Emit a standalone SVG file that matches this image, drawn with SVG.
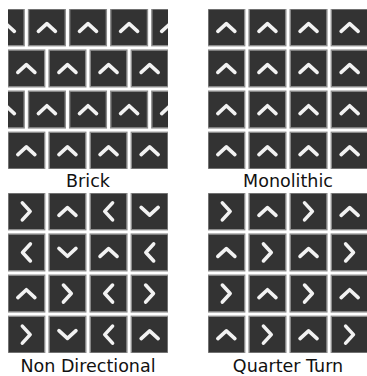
<svg xmlns="http://www.w3.org/2000/svg" xmlns:xlink="http://www.w3.org/1999/xlink" width="367" height="376" viewBox="0 0 367 376">
<style>
.t{fill:#333333;stroke:#8c8c8c;stroke-width:1.4}
.c{fill:none;stroke:#f2f2f2;stroke-width:3.6;stroke-linecap:round;stroke-linejoin:round}
.lbl{font-family:"DejaVu Sans",sans-serif;font-size:17.5px;fill:#111;text-anchor:middle}
</style>
<defs>
<g id="tile"><rect class="t" x="-18.35" y="-18.35" width="36.7" height="36.7"/><path class="c" d="M-8.5,4 L0,-3.8 L8.5,4"/></g>
<clipPath id="k1"><rect x="8" y="9" width="160" height="160"/></clipPath>
<clipPath id="k2"><rect x="208" y="9" width="160" height="160"/></clipPath>
<clipPath id="k3"><rect x="8" y="193" width="160" height="160"/></clipPath>
<clipPath id="k4"><rect x="208" y="193" width="160" height="160"/></clipPath>
</defs>
<rect width="367" height="376" fill="#ffffff"/>
<g id="brick">
<g clip-path="url(#k1)">
<use href="#tile" transform="translate(5.8,27.35)"/><use href="#tile" transform="translate(46.9,27.35)"/><use href="#tile" transform="translate(88,27.35)"/><use href="#tile" transform="translate(129.1,27.35)"/><use href="#tile" transform="translate(170.2,27.35)"/>
<use href="#tile" transform="translate(26.35,68.45)"/><use href="#tile" transform="translate(67.45,68.45)"/><use href="#tile" transform="translate(108.55,68.45)"/><use href="#tile" transform="translate(149.65,68.45)"/>
<use href="#tile" transform="translate(5.8,109.55)"/><use href="#tile" transform="translate(46.9,109.55)"/><use href="#tile" transform="translate(88,109.55)"/><use href="#tile" transform="translate(129.1,109.55)"/><use href="#tile" transform="translate(170.2,109.55)"/>
<use href="#tile" transform="translate(26.35,150.65)"/><use href="#tile" transform="translate(67.45,150.65)"/><use href="#tile" transform="translate(108.55,150.65)"/><use href="#tile" transform="translate(149.65,150.65)"/>
</g>
<text class="lbl" x="88" y="187">Brick</text>
</g>
<g id="monolithic">
<g clip-path="url(#k2)">
<use href="#tile" transform="translate(226.35,27.35)"/><use href="#tile" transform="translate(267.45,27.35)"/><use href="#tile" transform="translate(308.55,27.35)"/><use href="#tile" transform="translate(349.65,27.35)"/>
<use href="#tile" transform="translate(226.35,68.45)"/><use href="#tile" transform="translate(267.45,68.45)"/><use href="#tile" transform="translate(308.55,68.45)"/><use href="#tile" transform="translate(349.65,68.45)"/>
<use href="#tile" transform="translate(226.35,109.55)"/><use href="#tile" transform="translate(267.45,109.55)"/><use href="#tile" transform="translate(308.55,109.55)"/><use href="#tile" transform="translate(349.65,109.55)"/>
<use href="#tile" transform="translate(226.35,150.65)"/><use href="#tile" transform="translate(267.45,150.65)"/><use href="#tile" transform="translate(308.55,150.65)"/><use href="#tile" transform="translate(349.65,150.65)"/>
</g>
<text class="lbl" x="288" y="187">Monolithic</text>
</g>
<g id="non-directional">
<g clip-path="url(#k3)">
<use href="#tile" transform="translate(26.35,211.35) rotate(90)"/><use href="#tile" transform="translate(67.45,211.35)"/><use href="#tile" transform="translate(108.55,211.35) rotate(270)"/><use href="#tile" transform="translate(149.65,211.35) rotate(180)"/>
<use href="#tile" transform="translate(26.35,252.45) rotate(270)"/><use href="#tile" transform="translate(67.45,252.45) rotate(180)"/><use href="#tile" transform="translate(108.55,252.45)"/><use href="#tile" transform="translate(149.65,252.45) rotate(270)"/>
<use href="#tile" transform="translate(26.35,293.55)"/><use href="#tile" transform="translate(67.45,293.55) rotate(90)"/><use href="#tile" transform="translate(108.55,293.55) rotate(270)"/><use href="#tile" transform="translate(149.65,293.55) rotate(90)"/>
<use href="#tile" transform="translate(26.35,334.65) rotate(90)"/><use href="#tile" transform="translate(67.45,334.65) rotate(180)"/><use href="#tile" transform="translate(108.55,334.65) rotate(270)"/><use href="#tile" transform="translate(149.65,334.65)"/>
</g>
<text class="lbl" x="88" y="371.5">Non Directional</text>
</g>
<g id="quarter-turn">
<g clip-path="url(#k4)">
<use href="#tile" transform="translate(226.35,211.35) rotate(90)"/><use href="#tile" transform="translate(267.45,211.35)"/><use href="#tile" transform="translate(308.55,211.35) rotate(90)"/><use href="#tile" transform="translate(349.65,211.35)"/>
<use href="#tile" transform="translate(226.35,252.45)"/><use href="#tile" transform="translate(267.45,252.45) rotate(90)"/><use href="#tile" transform="translate(308.55,252.45)"/><use href="#tile" transform="translate(349.65,252.45) rotate(90)"/>
<use href="#tile" transform="translate(226.35,293.55) rotate(90)"/><use href="#tile" transform="translate(267.45,293.55)"/><use href="#tile" transform="translate(308.55,293.55) rotate(90)"/><use href="#tile" transform="translate(349.65,293.55)"/>
<use href="#tile" transform="translate(226.35,334.65)"/><use href="#tile" transform="translate(267.45,334.65) rotate(90)"/><use href="#tile" transform="translate(308.55,334.65)"/><use href="#tile" transform="translate(349.65,334.65) rotate(90)"/>
</g>
<text class="lbl" x="288" y="371.5">Quarter Turn</text>
</g>
<g id="connectors"/>
</svg>
